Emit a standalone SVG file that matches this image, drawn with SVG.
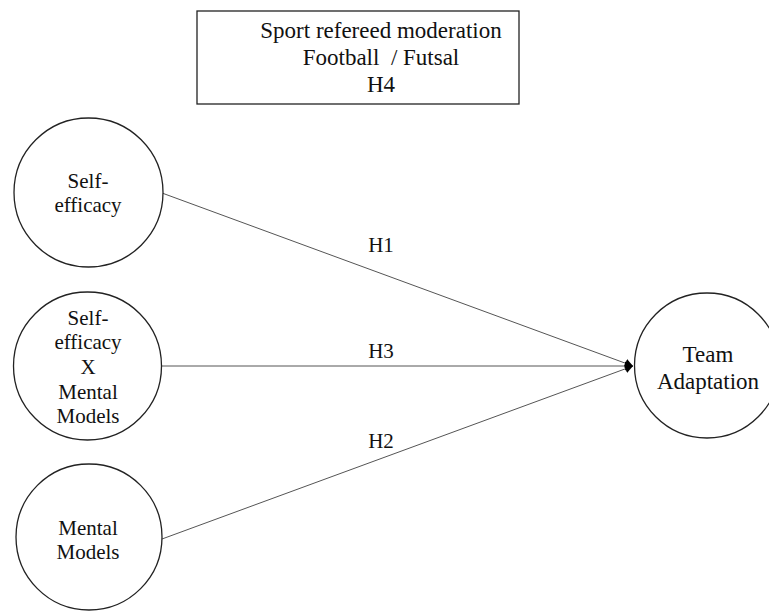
<svg xmlns="http://www.w3.org/2000/svg" width="769" height="611" viewBox="0 0 769 611">
<style>
  .bg { fill: #ffffff; }
  .node { fill: #ffffff; stroke: #222222; stroke-width: 1.3; }
  .box { fill: #ffffff; stroke: #222222; stroke-width: 1.3; }
  .edge { stroke: #555555; stroke-width: 1; fill: none; marker-end: url(#arrow); }
  text { font-family: "Liberation Serif", "Times New Roman", serif; fill: #111111; text-anchor: middle; }
  .t21 { font-size: 21px; }
  .t23 { font-size: 23px; }
  .lbl { font-size: 21px; }
</style>
<defs>
  <marker id="arrow" markerUnits="userSpaceOnUse" markerWidth="9" markerHeight="10" refX="8" refY="5" orient="auto">
    <path d="M0,0.5 L8,5 L0,9.5 z" fill="#000000"/>
  </marker>
</defs>
<rect class="bg" x="0" y="0" width="769" height="611"/>

<g id="moderation">
  <rect class="box" x="197" y="11" width="322" height="93"/>
  <text class="t23" x="381" y="38">Sport refereed moderation</text>
  <text class="t23" x="381" y="65" xml:space="preserve">Football  / Futsal</text>
  <text class="t23" x="381" y="92">H4</text>
</g>

<g id="connectors">
  <line class="edge" x1="162" y1="193" x2="633" y2="366"/>
  <line class="edge" x1="161" y1="366" x2="633" y2="366"/>
  <line class="edge" x1="162" y1="539" x2="633" y2="366"/>
  <text class="lbl" x="381" y="252">H1</text>
  <text class="lbl" x="381" y="358">H3</text>
  <text class="lbl" x="381" y="448">H2</text>
</g>

<g id="self-efficacy">
  <circle class="node" cx="88.5" cy="192.5" r="74.5"/>
  <text class="t21" x="88" y="188">Self-</text>
  <text class="t21" x="88" y="212">efficacy</text>
</g>

<g id="interaction">
  <circle class="node" cx="87.5" cy="366" r="74"/>
  <text class="t21" x="88" y="325">Self-</text>
  <text class="t21" x="88" y="349">efficacy</text>
  <text class="t21" x="88" y="374">X</text>
  <text class="t21" x="88" y="399">Mental</text>
  <text class="t21" x="88" y="423">Models</text>
</g>

<g id="mental-models">
  <circle class="node" cx="89" cy="537" r="73"/>
  <text class="t21" x="88" y="535">Mental</text>
  <text class="t21" x="88" y="559">Models</text>
</g>

<g id="team-adaptation">
  <circle class="node" cx="707" cy="365.5" r="72.5"/>
  <text class="t23" x="708" y="362">Team</text>
  <text class="t23" x="708" y="389">Adaptation</text>
</g>
</svg>
